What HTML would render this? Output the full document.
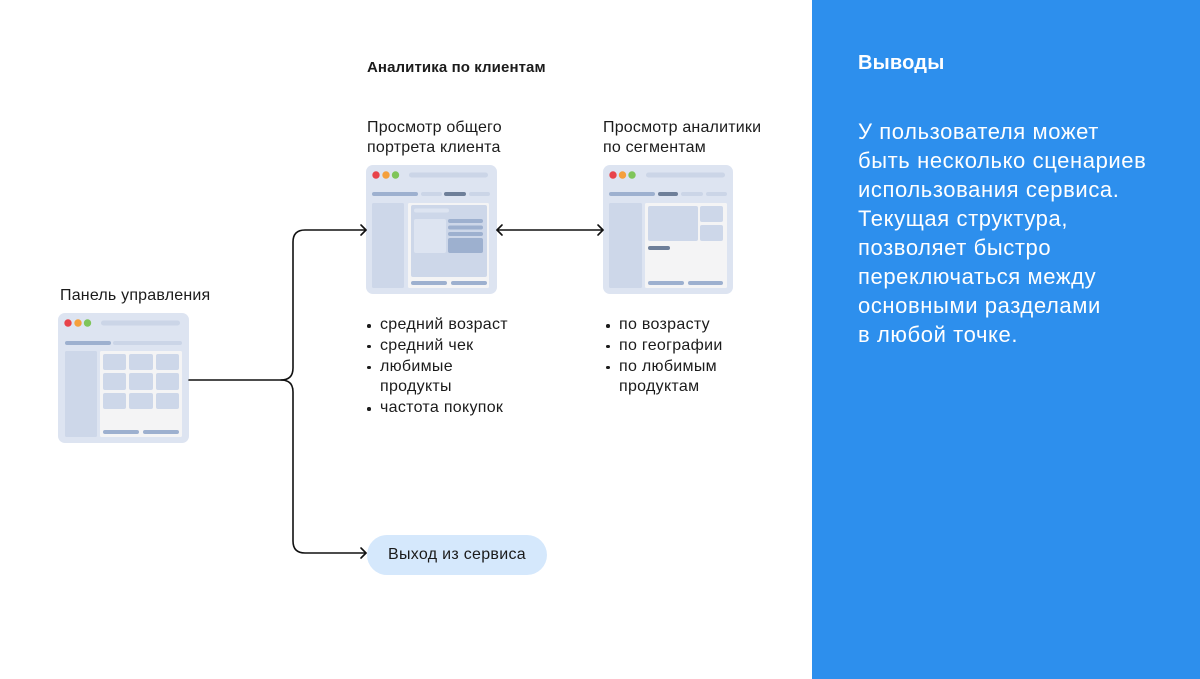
<!DOCTYPE html>
<html><head><meta charset="utf-8">
<style>
html,body{margin:0;padding:0;}
body{width:1200px;height:679px;position:relative;overflow:hidden;background:#fff;font-family:"Liberation Sans","Noto Sans CJK SC",sans-serif;color:#1b1b1b;}
.t{position:absolute;white-space:nowrap;font-size:16px;line-height:20px;letter-spacing:0.2px;}
.panel{position:absolute;left:812px;top:0;width:388px;height:679px;background:#2d8fed;}
.ul{position:absolute;font-size:16px;line-height:20.8px;white-space:nowrap;letter-spacing:0.3px;}
.ul div{position:relative;padding-left:13px;}
.ul div.b:before{content:"";position:absolute;left:0;top:9px;width:3.5px;height:3.5px;border-radius:50%;background:#1b1b1b;}
</style></head><body>

<svg width="1200" height="679" style="position:absolute;left:0;top:0">
  <!-- Window 1 -->
  <g>
    <rect x="58" y="313" width="131" height="130" rx="7" fill="#dde4f1"/>
    <circle cx="68" cy="323" r="3.7" fill="#e8434a"/>
    <circle cx="78" cy="323" r="3.7" fill="#f5a03c"/>
    <circle cx="87.5" cy="323" r="3.7" fill="#7fc55a"/>
    <rect x="101" y="320.5" width="79" height="5" rx="2.5" fill="#cbd5e7"/>
    <rect x="65" y="341" width="46" height="4" rx="2" fill="#9db0cf"/>
    <rect x="113" y="341" width="69" height="4" rx="2" fill="#cbd5e7"/>
    <rect x="65" y="351" width="32" height="86" rx="1.5" fill="#cdd7e9"/>
    <rect x="100" y="351" width="82" height="86" rx="1.5" fill="#f4f4f5"/>
    <rect x="103" y="354" width="23" height="16" rx="2" fill="#cdd7e9"/>
    <rect x="129" y="354" width="24" height="16" rx="2" fill="#cdd7e9"/>
    <rect x="156" y="354" width="23" height="16" rx="2" fill="#cdd7e9"/>
    <rect x="103" y="373" width="23" height="17" rx="2" fill="#cdd7e9"/>
    <rect x="129" y="373" width="24" height="17" rx="2" fill="#cdd7e9"/>
    <rect x="156" y="373" width="23" height="17" rx="2" fill="#cdd7e9"/>
    <rect x="103" y="393" width="23" height="16" rx="2" fill="#cdd7e9"/>
    <rect x="129" y="393" width="24" height="16" rx="2" fill="#cdd7e9"/>
    <rect x="156" y="393" width="23" height="16" rx="2" fill="#cdd7e9"/>
    <rect x="103" y="430" width="36" height="4" rx="2" fill="#9db0cf"/>
    <rect x="143" y="430" width="36" height="4" rx="2" fill="#9db0cf"/>
  </g>
  <!-- Window 2 -->
  <g>
    <rect x="366" y="165" width="131" height="129" rx="7" fill="#dde4f1"/>
    <circle cx="376" cy="175" r="3.7" fill="#e8434a"/>
    <circle cx="386" cy="175" r="3.7" fill="#f5a03c"/>
    <circle cx="395.5" cy="175" r="3.7" fill="#7fc55a"/>
    <rect x="409" y="172.5" width="79" height="5" rx="2.5" fill="#cbd5e7"/>
    <rect x="372" y="192" width="46" height="4" rx="2" fill="#9db0cf"/>
    <rect x="421" y="192" width="21" height="4" rx="2" fill="#cbd5e7"/>
    <rect x="444" y="192" width="22" height="4" rx="2" fill="#6e7f99"/>
    <rect x="469" y="192" width="21" height="4" rx="2" fill="#cbd5e7"/>
    <rect x="372" y="203" width="32" height="85" rx="1.5" fill="#cdd7e9"/>
    <rect x="408" y="203" width="81" height="85" rx="1.5" fill="#f4f4f5"/>
    <rect x="411" y="205" width="76" height="72" rx="2" fill="#cdd7e9"/>
    <rect x="414" y="208.5" width="35" height="4" rx="2" fill="#dde4f1"/>
    <rect x="414" y="219" width="32" height="34" rx="2" fill="#dde4f1"/>
    <rect x="448" y="219" width="35" height="4" rx="2" fill="#9db0cf"/>
    <rect x="448" y="225.5" width="35" height="4" rx="2" fill="#9db0cf"/>
    <rect x="448" y="232" width="35" height="4" rx="2" fill="#9db0cf"/>
    <rect x="448" y="238" width="35" height="15" rx="2" fill="#9db0cf"/>
    <rect x="411" y="281" width="36" height="4" rx="2" fill="#9db0cf"/>
    <rect x="451" y="281" width="36" height="4" rx="2" fill="#9db0cf"/>
  </g>
  <!-- Window 3 -->
  <g>
    <rect x="603" y="165" width="130" height="129" rx="7" fill="#dde4f1"/>
    <circle cx="613" cy="175" r="3.7" fill="#e8434a"/>
    <circle cx="622.5" cy="175" r="3.7" fill="#f5a03c"/>
    <circle cx="632" cy="175" r="3.7" fill="#7fc55a"/>
    <rect x="646" y="172.5" width="79" height="5" rx="2.5" fill="#cbd5e7"/>
    <rect x="609" y="192" width="46" height="4" rx="2" fill="#9db0cf"/>
    <rect x="658" y="192" width="20" height="4" rx="2" fill="#6e7f99"/>
    <rect x="681" y="192" width="22" height="4" rx="2" fill="#cbd5e7"/>
    <rect x="706" y="192" width="21" height="4" rx="2" fill="#cbd5e7"/>
    <rect x="609" y="203" width="33" height="85" rx="1.5" fill="#cdd7e9"/>
    <rect x="645" y="203" width="82" height="85" rx="1.5" fill="#f4f4f5"/>
    <rect x="648" y="206" width="50" height="35" rx="2" fill="#cdd7e9"/>
    <rect x="700" y="206" width="23" height="16" rx="2" fill="#cdd7e9"/>
    <rect x="700" y="225" width="23" height="16" rx="2" fill="#cdd7e9"/>
    <rect x="648" y="246" width="22" height="4" rx="2" fill="#6e7f99"/>
    <rect x="648" y="281" width="36" height="4" rx="2" fill="#9db0cf"/>
    <rect x="688" y="281" width="35" height="4" rx="2" fill="#9db0cf"/>
  </g>
  <!-- Exit button -->
  <rect x="367" y="535" width="180" height="40" rx="20" fill="#d5e8fc"/>
  <!-- Connectors -->
  <g fill="none" stroke="#111" stroke-width="1.6" stroke-linecap="round" stroke-linejoin="round">
    <path d="M189 380 H281 Q293 380 293 368 V242 Q293 230 305 230 H366"/>
    <path d="M281 380 Q293 380 293 392 V541 Q293 553 305 553 H366"/>
    <path d="M361 225 L366 230 L361 235"/>
    <path d="M361 548 L366 553 L361 558"/>
    <path d="M497 230 H603"/>
    <path d="M502 225 L497 230 L502 235"/>
    <path d="M598 225 L603 230 L598 235"/>
  </g>
</svg>

<div class="t" style="left:367px;top:58px;font-size:15px;font-weight:bold;letter-spacing:0.1px;">Аналитика по клиентам</div>
<div class="t" style="left:367px;top:118px;">Просмотр общего<br>портрета клиента</div>
<div class="t" style="left:603px;top:118px;">Просмотр аналитики<br>по сегментам</div>
<div class="t" style="left:60px;top:286px;">Панель управления</div>

<div class="ul" style="left:367px;top:315px;">
  <div class="b">средний возраст</div>
  <div class="b">средний чек</div>
  <div class="b">любимые</div>
  <div>продукты</div>
  <div class="b">частота покупок</div>
</div>
<div class="ul" style="left:606px;top:315px;">
  <div class="b">по возрасту</div>
  <div class="b">по географии</div>
  <div class="b">по любимым</div>
  <div>продуктам</div>
</div>

<div class="t" style="left:367px;top:545px;width:180px;text-align:center;letter-spacing:0.3px;">Выход из сервиса</div>

<div class="panel"></div>
<div class="t" style="left:858px;top:51px;font-size:20px;line-height:24px;font-weight:bold;color:#fff;letter-spacing:0.2px;">Выводы</div>
<div class="t" style="left:858px;top:117px;font-size:22px;line-height:29px;color:#fff;letter-spacing:0.6px;">У пользователя может<br>быть несколько сценариев<br>использования сервиса.<br>Текущая структура,<br>позволяет быстро<br>переключаться между<br>основными разделами<br>в любой точке.</div>

</body></html>
